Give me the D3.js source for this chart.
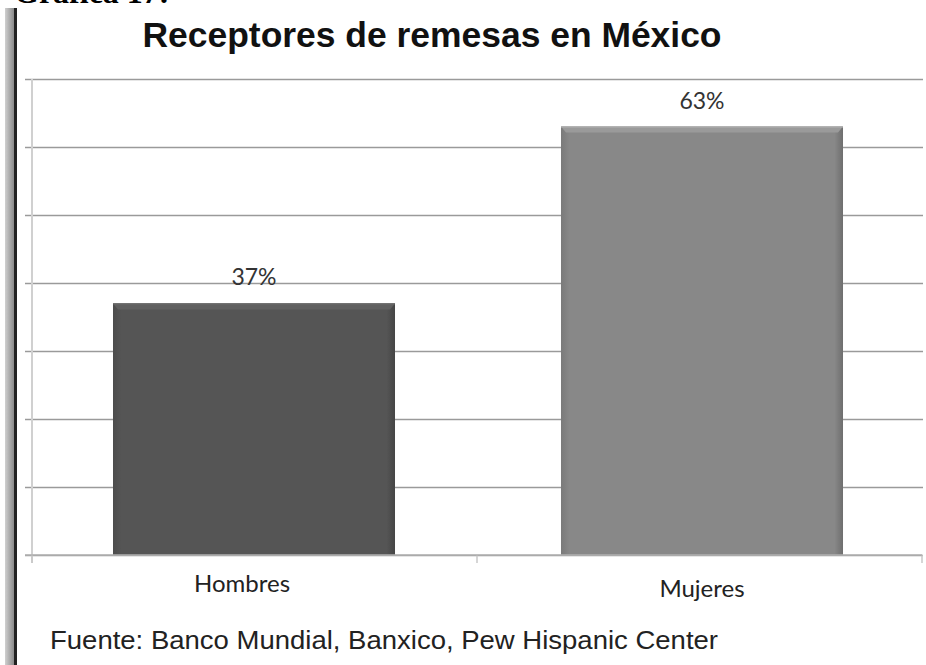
<!DOCTYPE html>
<html>
<head>
<meta charset="utf-8">
<script src="https://cdn.jsdelivr.net/npm/d3@7"></script>
<style>
  body { margin: 0; background: #fff; }
  svg { display: block; }
</style>
</head>
<body>
<div id="chart"></div>
<script>
const categories = ['Hombres', 'Mujeres']
const values = [0.37, 0.63]
const valueLabels = ['37%', '63%']
const barColors = ['#555555', '#888888']
const yTicks = [0, 0.1, 0.2, 0.3, 0.4, 0.5, 0.6, 0.7]

const fullWidth = 926, fullHeight = 665
const margin = { top: 79, right: 4, bottom: 110, left: 32 },
  width = fullWidth - margin.left - margin.right,
  height = fullHeight - margin.top - margin.bottom

const root = d3.select('#chart')
  .append('svg')
    .attr('width', fullWidth)
    .attr('height', fullHeight)

// gradients for the bevelled bars
const defs = root.append('defs')
barColors.forEach((c, i) => {
  const g = defs.append('linearGradient').attr('id', 'bar' + i)
    .attr('x1', 0).attr('x2', 1).attr('y1', 0).attr('y2', 0)
  g.append('stop').attr('offset', '0%').attr('stop-color', d3.color(c).darker(0.3))
  g.append('stop').attr('offset', '3%').attr('stop-color', c)
  g.append('stop').attr('offset', '97%').attr('stop-color', c)
  g.append('stop').attr('offset', '100%').attr('stop-color', d3.color(c).darker(0.6))
})
const lg = defs.append('linearGradient').attr('id', 'leftbar')
  .attr('x1', 0).attr('x2', 1).attr('y1', 0).attr('y2', 0)
lg.append('stop').attr('offset', '0%').attr('stop-color', '#d0d0d0')
lg.append('stop').attr('offset', '100%').attr('stop-color', '#8a8a8a')

// page decorations: heading cut off by the crop, and left border
root.append('text')
  .attr('x', 14).attr('y', 3)
  .attr('font-family', 'Liberation Serif, serif')
  .attr('font-weight', 'bold')
  .attr('font-size', 32)
  .attr('fill', '#000')
  .text('Gráfica 17:')
root.append('rect')
  .attr('x', 5).attr('y', 8).attr('width', 9).attr('height', fullHeight - 8)
  .attr('fill', 'url(#leftbar)')
root.append('rect')
  .attr('x', 14).attr('y', 8).attr('width', 3).attr('height', fullHeight - 8)
  .attr('fill', '#222')

// title
root.append('text')
  .attr('x', 432).attr('y', 47)
  .attr('text-anchor', 'middle')
  .attr('font-family', 'Liberation Sans, Arial, sans-serif')
  .attr('font-weight', 'bold')
  .attr('font-size', 35)
  .attr('textLength', 579)
  .attr('lengthAdjust', 'spacingAndGlyphs')
  .attr('fill', '#111')
  .text('Receptores de remesas en México')

const svg = root.append('g')
  .attr('transform', `translate(${margin.left}, ${margin.top})`)

const xScale = d3.scaleBand()
  .domain(categories)
  .range([0, 892])
  .paddingInner(0.3705)
  .paddingOuter(0.1808)

const yScale = d3.scaleLinear()
  .domain([0, 0.7])
  .range([height, 0])

// gridlines
svg.append('g')
  .call(d3.axisLeft(yScale).tickValues(yTicks).tickSize(-(width + 8)).tickFormat(''))
  .attr('transform', 'translate(-7, 0)')
  .call(g => g.select('.domain').remove())
  .call(g => g.selectAll('.tick line').attr('stroke', '#9a9a9a').attr('stroke-width', 1.5))

// y axis line (no labels)
svg.append('line')
  .attr('x1', 0).attr('x2', 0)
  .attr('y1', 0).attr('y2', height + 8)
  .attr('stroke', '#d0d0d0').attr('stroke-width', 2)

// category separators on x axis
const sepX = [0, 445, 890]
svg.selectAll('.sep')
  .data(sepX)
  .enter()
  .append('line')
    .attr('x1', d => d).attr('x2', d => d)
    .attr('y1', height).attr('y2', height + 8)
    .attr('stroke', '#c8c8c8').attr('stroke-width', 1.5)

// bars
const bars = svg.selectAll('.bar')
  .data(values)
  .enter()
  .append('g')

bars.append('rect')
  .attr('x', (d, i) => xScale(categories[i]))
  .attr('y', d => yScale(d))
  .attr('width', xScale.bandwidth())
  .attr('height', d => height - yScale(d))
  .attr('fill', (d, i) => `url(#bar${i})`)

// top bevel
bars.append('path')
  .attr('d', (d, i) => {
    const x0 = xScale(categories[i]), x1 = x0 + xScale.bandwidth(), y = yScale(d)
    return `M${x0},${y} L${x1},${y} L${x1 - 5},${y + 6} L${x0 + 5},${y + 6} Z`
  })
  .attr('fill', (d, i) => d3.color(barColors[i]).brighter(0.35))
bars.append('line')
  .attr('x1', (d, i) => xScale(categories[i]))
  .attr('x2', (d, i) => xScale(categories[i]) + xScale.bandwidth())
  .attr('y1', d => yScale(d) + 0.5).attr('y2', d => yScale(d) + 0.5)
  .attr('stroke', (d, i) => d3.color(barColors[i]).brighter(0.7))

// value labels
svg.selectAll('.val')
  .data(values)
  .enter()
  .append('text')
    .attr('x', (d, i) => xScale(categories[i]) + xScale.bandwidth() / 2)
    .attr('y', d => yScale(d) - 18)
    .attr('text-anchor', 'middle')
    .attr('font-family', 'Lato, Open Sans, sans-serif')
    .attr('font-size', 23)
    .attr('fill', '#333')
    .text((d, i) => valueLabels[i])

// x axis line
svg.append('line')
  .attr('x1', -7).attr('x2', width)
  .attr('y1', height).attr('y2', height)
  .attr('stroke', '#b0b0b0').attr('stroke-width', 1.5)

// category labels
svg.selectAll('.cat')
  .data(categories)
  .enter()
  .append('text')
    .attr('x', (d, i) => xScale(d) + xScale.bandwidth() / 2 + (i === 0 ? -12 : 0))
    .attr('y', (d, i) => height + (i === 0 ? 37 : 42))
    .attr('text-anchor', 'middle')
    .attr('font-family', 'Lato, Open Sans, sans-serif')
    .attr('font-size', 24)
    .attr('fill', '#222')
    .text(d => d)

// source
root.append('text')
  .attr('x', 50).attr('y', 649)
  .attr('font-family', 'Liberation Sans, Arial, sans-serif')
  .attr('font-size', 26.5)
  .attr('textLength', 668)
  .attr('lengthAdjust', 'spacingAndGlyphs')
  .attr('fill', '#222')
  .text('Fuente: Banco Mundial, Banxico, Pew Hispanic Center')
</script>
</body>
</html>
